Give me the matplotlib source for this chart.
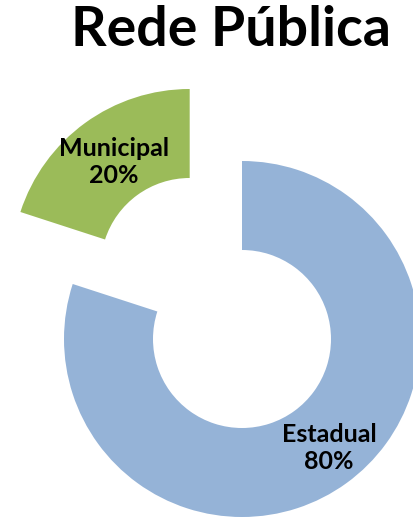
import matplotlib
matplotlib.use('agg')
import matplotlib.pyplot as plt

categories = ['Estadual', 'Municipal']
values = [80, 20]
colors = ['#95B3D7', '#9BBB59']
title = 'Rede Pública'

plt.rcParams['font.family'] = ['Lato', 'DejaVu Sans']

fig = plt.figure(figsize=(4.14, 5.17), dpi=100)
ax = fig.add_axes([0, 0, 1, 1])

# axes in pixel units so the ring sits where it does in the picture
radius = 178
center = (242, 178)

def make_label(pct):
    i = [round(v) for v in values].index(round(pct))
    return f'{categories[i]}\n{pct:.0f}%'

wedges, texts, autotexts = ax.pie(values, colors=colors, startangle=90, counterclock=False,
                                  radius=radius, center=center, explode=[0, 89],
                                  wedgeprops=dict(width=89, linewidth=0),
                                  autopct=make_label, pctdistance=0.75)

# nudge the labels to where they sit in the original
label_pos = [(329, 69), (114, 355)]
for t, pos in zip(autotexts, label_pos):
    t.set_position(pos)
    t.set_fontsize(18)
    t.set_fontweight('bold')
    t.set_linespacing(1.2)
    t.set_color('black')

ax.set_xlim(0, 414)
ax.set_ylim(0, 517)
ax.set_aspect('equal')
ax.axis('off')

fig.text(231 / 414, 1 - 46 / 517, title, ha='center', va='baseline',
         fontsize=40, fontweight='bold')

fig.savefig('out.png', dpi=100)
